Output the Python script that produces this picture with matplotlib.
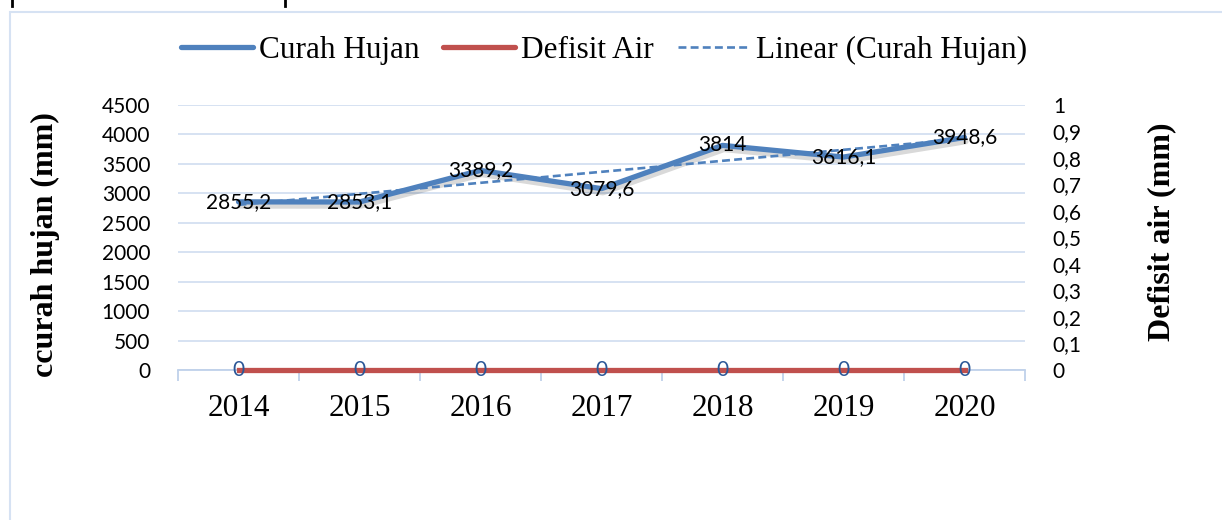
import matplotlib
matplotlib.use("Agg")
import matplotlib.pyplot as plt
import matplotlib.patheffects as pe
from matplotlib.lines import Line2D
from matplotlib.patches import Rectangle
from matplotlib.ticker import FuncFormatter, MultipleLocator

# data
years = ["2014", "2015", "2016", "2017", "2018", "2019", "2020"]
curah_hujan = [2855.2, 2853.1, 3389.2, 3079.6, 3814, 3616.1, 3948.6]
defisit_air = [0, 0, 0, 0, 0, 0, 0]
# Excel linear trendline of curah hujan, values read at 2014 and 2020
trend_years = [0, 6]
trend_values = [2805, 3926]

BLUE = "#4F81BD"
RED = "#C0504D"
GRID = "#D3DFF1"
SERIF = "Liberation Serif"
SANS = "Lato"

W, H = 1222, 520


def comma(v):
    return f"{round(v, 1):g}".replace(".", ",")


fig = plt.figure(figsize=(W / 100, H / 100), dpi=100)

# outer chart border (extends past right / bottom edge) and cropped marks on top
fig.add_artist(Rectangle((10 / W, -0.05), 1.1, 1 - 12 / H + 0.05,
                         transform=fig.transFigure, fill=False,
                         edgecolor="#D6E2F3", lw=1.5))
for px in (12, 285):
    fig.add_artist(Line2D([px / W, px / W], [1, 1 - 6 / H],
                          transform=fig.transFigure, color="black", lw=2))

ax = fig.add_axes([178 / W, 150 / H, 847 / W, 265 / H])
ax2 = ax.twinx()

x = list(range(len(years)))

shadow = [pe.SimpleLineShadow(offset=(1, -3), alpha=0.15, shadow_color="black"),
          pe.Normal()]
ax.plot(x, curah_hujan, color=BLUE, lw=3.8, solid_capstyle="round",
        path_effects=shadow, zorder=3)
ax.plot(trend_years, trend_values, color=BLUE, lw=1.9, ls=(0, (3, 1.6)), zorder=4)
ax2.plot(x, defisit_air, color=RED, lw=3.8, clip_on=False, zorder=3)

for xi, v in zip(x, curah_hujan):
    ax.text(xi, v, comma(v), ha="center", va="center", fontsize=15,
            family=SANS, color="black", zorder=6)
for xi, v in zip(x, defisit_air):
    ax2.text(xi, v, comma(v), ha="center", va="center", fontsize=15,
             family=SANS, color="#2B5797", zorder=6)

ax.set_xlim(-0.5, len(years) - 0.5)
ax.set_ylim(0, 4500)
ax2.set_ylim(0, 1)

ax.yaxis.set_major_locator(MultipleLocator(500))
ax.yaxis.set_major_formatter(FuncFormatter(lambda v, _: f"{v:.0f}"))
ax2.yaxis.set_major_locator(MultipleLocator(0.1))
ax2.yaxis.set_major_formatter(FuncFormatter(lambda v, _: comma(v)))

ax.grid(axis="y", color=GRID, lw=1.3)
ax.set_axisbelow(True)

ax.set_xticks(x)
ax.set_xticklabels(years, family=SERIF, fontsize=22.5)
ax.set_xticks([i - 0.5 for i in range(len(years) + 1)], minor=True)
ax.tick_params(axis="x", which="major", length=0, pad=17)
ax.tick_params(axis="x", which="minor", length=8, color="#BFD1EA", width=1.3)
ax.tick_params(axis="y", length=0, pad=20, labelsize=15)
ax2.tick_params(axis="y", length=0, pad=20, labelsize=15)
for lab in ax.get_yticklabels() + ax2.get_yticklabels():
    lab.set_family(SANS)

for s in ("top", "left", "right"):
    ax.spines[s].set_visible(False)
    ax2.spines[s].set_visible(False)
ax2.spines["bottom"].set_visible(False)
ax.spines["bottom"].set_color("#BFD1EA")
ax.spines["bottom"].set_linewidth(1.3)

fig.text(45 / W, 1 - 245 / H, "ccurah hujan (mm)", rotation=90, ha="center",
         va="center", family=SERIF, fontsize=23, fontweight="bold")
fig.text(1162 / W, 1 - 232 / H, "Defisit air (mm)", rotation=90, ha="center",
         va="center", family=SERIF, fontsize=23, fontweight="bold")

handles = [
    Line2D([], [], color=BLUE, lw=3.8, solid_capstyle="round"),
    Line2D([], [], color=RED, lw=3.8, solid_capstyle="round"),
    Line2D([], [], color=BLUE, lw=1.9, ls=(0, (3, 1.6))),
]
fig.legend(handles, ["Curah Hujan", "Defisit Air", "Linear (Curah Hujan)"],
           loc="center", bbox_to_anchor=(604 / W, 1 - 50 / H), ncol=3,
           frameon=False, prop={"family": SERIF, "size": 22.5},
           handlelength=2.3, handletextpad=0.2, columnspacing=0.75)

fig.savefig("out.png", dpi=100)
